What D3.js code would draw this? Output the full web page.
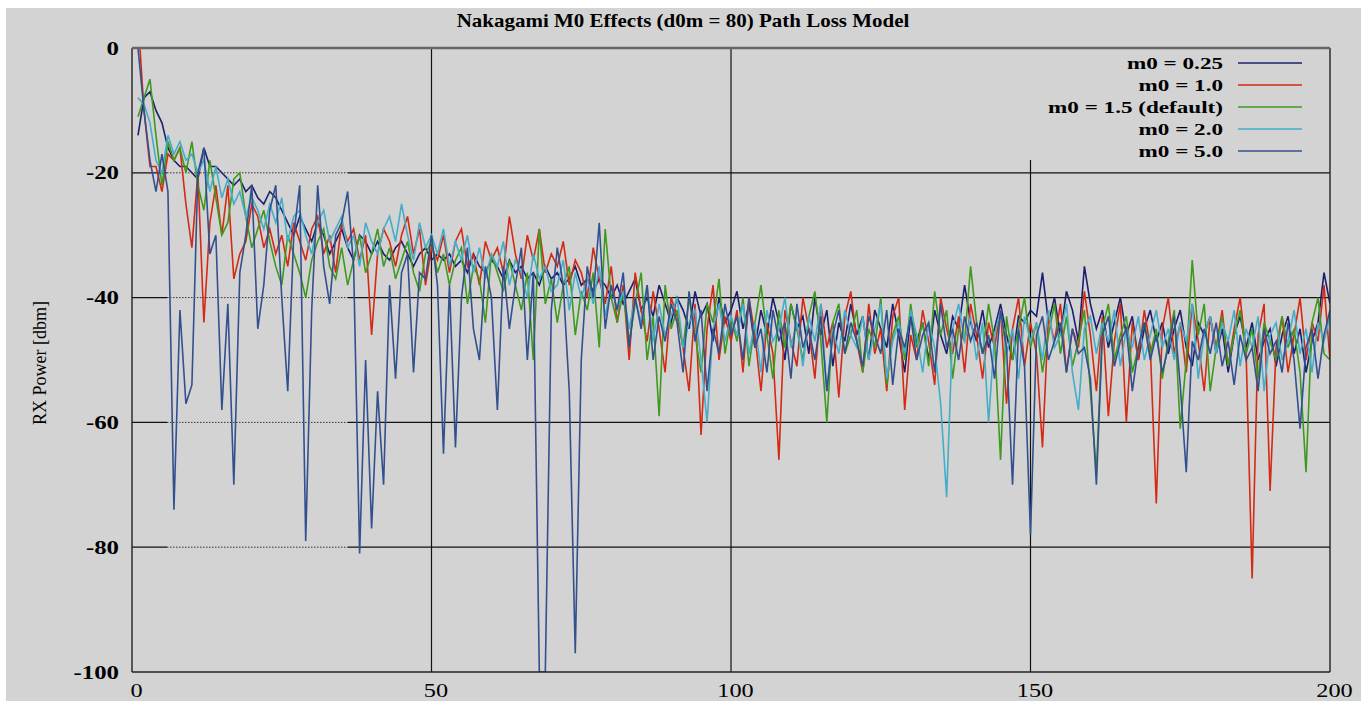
<!DOCTYPE html>
<html><head><meta charset="utf-8">
<script src="https://cdn.jsdelivr.net/npm/d3@7"></script>
<style>
html,body{margin:0;padding:0;background:#fff;}
svg{display:block;}
text{font-family:"Liberation Serif","Times New Roman",serif;fill:#000;}
</style></head>
<body>
<svg id="chart" width="1361" height="701"></svg>
<script>
const title = "Nakagami M0 Effects (d0m = 80) Path Loss Model";
const yLabel = "RX Power [dbm]";
const xTicks = [0, 50, 100, 150, 200];
const yTicks = [0, -20, -40, -60, -80, -100];
const seriesNames = ["m0 = 0.25", "m0 = 1.0", "m0 = 1.5 (default)", "m0 = 2.0", "m0 = 5.0"];
const seriesColors = ["#1b1f6e", "#d42a14", "#3e9a1e", "#45adc9", "#33508e"];

const m025 = [
-14,-8,-7,-10,-12,-16,-18,-19,-19,-20,
-21,-16,-19,-19,-20,-21,-22,-21,-23,-22,
-24,-25,-23,-24,-26,-28,-30,-27,-29,-31,
-28,-30,-33,-31,-29,-32,-34,-30,-31,-33,
-31,-33,-34,-32,-31,-33,-35,-33,-32,-34,
-33,-34,-33,-35,-34,-36,-33,-35,-36,-34,
-35,-37,-34,-36,-35,-37,-36,-38,-35,-37,
-36,-38,-37,-35,-38,-37,-39,-37,-38,-40,
-38,-41,-39,-37,-42,-40,-43,-38,-41,-44,
-40,-42,-45,-39,-43,-41,-47,-40,-44,-42,
-39,-45,-41,-48,-42,-46,-40,-44,-50,-41,
-45,-43,-49,-40,-46,-42,-51,-44,-47,-41,
-46,-43,-50,-42,-45,-48,-41,-46,-52,-43,
-47,-44,-50,-42,-46,-49,-43,-45,-38,-44,
-47,-42,-48,-45,-41,-46,-50,-43,-44,-42,
-43,-36,-44,-40,-46,-39,-42,-47,-35,-41,
-45,-42,-48,-44,-40,-46,-43,-50,-45,-42,
-47,-44,-49,-45,-42,-48,-51,-44,-46,-43,
-49,-45,-52,-46,-43,-48,-44,-50,-47,-45,
-51,-46,-43,-49,-45,-52,-47,-44,-36,-41];

const m10 = [
5,-10,-19,-19,-23,-17,-18,-16,-25,-32,
-20,-44,-28,-22,-30,-22,-37,-33,-31,-25,
-27,-32,-29,-33,-30,-35,-28,-31,-34,-29,
-27,-33,-30,-36,-28,-31,-29,-34,-30,-46,
-33,-29,-31,-35,-30,-27,-33,-29,-38,-32,
-34,-30,-36,-31,-29,-35,-33,-38,-31,-34,
-32,-36,-27,-33,-37,-30,-34,-29,-36,-33,
-35,-31,-38,-34,-36,-40,-32,-37,-41,-35,
-44,-38,-50,-36,-42,-47,-39,-45,-52,-40,
-43,-48,-55,-41,-62,-45,-38,-50,-43,-47,
-42,-52,-40,-46,-55,-44,-49,-66,-42,-47,
-51,-40,-45,-53,-41,-48,-44,-56,-43,-39,
-47,-52,-41,-49,-45,-55,-43,-40,-58,-46,
-50,-42,-47,-54,-40,-45,-49,-43,-52,-41,
-46,-53,-44,-48,-42,-57,-45,-40,-51,-44,
-49,-64,-43,-47,-41,-52,-45,-48,-39,-46,
-55,-43,-59,-47,-41,-60,-44,-50,-42,-48,
-73,-45,-40,-49,-44,-52,-41,-47,-55,-43,
-48,-42,-51,-45,-40,-49,-85,-46,-41,-71,
-48,-43,-52,-46,-40,-50,-44,-47,-38,-50];

const m15 = [
-11,-8,-5,-14,-22,-15,-18,-16,-20,-15,
-22,-26,-18,-24,-30,-28,-21,-20,-27,-32,
-29,-26,-31,-35,-38,-30,-33,-36,-40,-34,
-31,-29,-35,-37,-32,-38,-34,-30,-36,-33,
-29,-35,-32,-37,-34,-31,-36,-39,-33,-31,
-36,-33,-38,-34,-32,-41,-35,-37,-44,-33,
-36,-39,-34,-38,-42,-36,-50,-29,-41,-37,
-44,-38,-35,-46,-39,-42,-36,-48,-29,-40,
-44,-39,-47,-41,-36,-50,-43,-59,-38,-45,
-42,-48,-40,-46,-52,-41,-44,-37,-49,-43,
-47,-40,-51,-44,-38,-46,-53,-42,-48,-41,
-45,-50,-43,-39,-47,-60,-44,-41,-49,-46,
-42,-52,-45,-48,-40,-54,-46,-43,-50,-41,
-48,-44,-51,-39,-46,-42,-53,-45,-47,-35,
-44,-49,-41,-47,-66,-43,-50,-45,-40,-48,
-44,-52,-46,-41,-49,-43,-51,-47,-42,-55,
-68,-45,-41,-50,-46,-43,-52,-48,-44,-49,
-45,-53,-47,-42,-61,-50,-34,-46,-41,-55,
-48,-43,-51,-46,-42,-49,-45,-53,-44,-47,
-50,-43,-48,-45,-52,-68,-44,-40,-49,-50];

const m20 = [
-8,-9,-12,-18,-20,-14,-17,-15,-18,-17,
-20,-18,-23,-19,-24,-21,-25,-23,-27,-24,
-26,-29,-25,-28,-24,-31,-27,-26,-30,-33,
-28,-26,-31,-29,-27,-32,-30,-35,-28,-31,
-33,-29,-27,-31,-25,-30,-34,-28,-32,-30,
-33,-29,-35,-31,-34,-30,-36,-32,-37,-33,
-35,-31,-38,-34,-36,-40,-33,-37,-35,-39,
-38,-34,-42,-36,-40,-37,-41,-35,-43,-38,
-42,-39,-45,-40,-44,-38,-47,-41,-46,-43,
-40,-48,-44,-42,-50,-60,-45,-41,-47,-43,
-46,-41,-49,-44,-52,-42,-47,-45,-40,-48,
-44,-51,-43,-47,-41,-55,-45,-49,-42,-46,
-48,-43,-50,-45,-41,-53,-47,-44,-49,-42,
-46,-52,-44,-48,-57,-72,-45,-41,-47,-43,
-50,-44,-60,-46,-42,-49,-45,-53,-43,-47,
-44,-50,-42,-48,-46,-41,-52,-58,-45,-43,
-49,-44,-47,-42,-51,-45,-48,-43,-50,-46,
-42,-48,-45,-50,-44,-47,-41,-53,-46,-43,
-49,-44,-47,-42,-51,-45,-48,-43,-55,-46,
-44,-50,-47,-42,-49,-45,-52,-44,-47,-43];

const m50 = [
0,-10,-18,-23,-17,-23,-74,-42,-57,-54,
-20,-16,-33,-30,-58,-41,-70,-36,-30,-22,
-45,-38,-26,-22,-40,-55,-30,-22,-79,-42,
-22,-35,-41,-30,-28,-23,-35,-81,-50,-77,
-55,-70,-38,-53,-36,-33,-52,-36,-37,-30,
-38,-65,-38,-64,-40,-32,-45,-50,-35,-40,
-58,-35,-45,-38,-32,-50,-36,-100,-100,-42,
-32,-38,-55,-97,-50,-35,-40,-28,-45,-38,
-42,-36,-48,-40,-45,-38,-50,-43,-47,-41,
-44,-52,-39,-47,-42,-55,-45,-49,-41,-46,
-43,-50,-40,-48,-45,-52,-42,-47,-44,-53,
-41,-48,-45,-50,-43,-55,-46,-42,-49,-44,
-47,-51,-43,-46,-49,-42,-54,-45,-48,-43,
-50,-46,-44,-52,-41,-48,-45,-50,-43,-47,
-44,-49,-46,-53,-42,-48,-70,-45,-51,-78,
-46,-43,-50,-47,-44,-52,-45,-49,-48,-53,
-70,-46,-43,-51,-47,-45,-55,-48,-44,-50,
-46,-52,-48,-43,-54,-68,-47,-50,-45,-49,
-44,-51,-47,-54,-46,-50,-48,-55,-45,-49,
-47,-52,-44,-50,-61,-48,-45,-53,-46,-42];

const seriesValues = [m025, m10, m15, m20, m50];

const svg = d3.select("#chart");
const W = 1361, H = 701;
const plot = {left: 132, right: 1330, top: 48, bottom: 672};

svg.append("rect").attr("x", 6).attr("y", 8).attr("width", W - 6).attr("height", H - 8).attr("fill", "#d3d3d3");

const x = d3.scaleLinear().domain([0, 200]).range([plot.left, plot.right]);
const y = d3.scaleLinear().domain([-100, 0]).range([plot.bottom, plot.top]);

// stretched text helper (the reference type is horizontally wide)
function wideText(parent, px, py, str, opts) {
  const g = parent.append("g").attr("transform", `translate(${px},${py}) scale(${opts.sx},1)`);
  return g.append("text").attr("x", 0).attr("y", 0).attr("text-anchor", opts.anchor || "start")
    .style("font-size", opts.size + "px").style("font-weight", opts.weight || "normal").text(str);
}

// title
const tt = wideText(svg, 683, 27, title, {sx: 1, anchor: "middle", size: 19, weight: "bold"});
const tw = tt.node().getComputedTextLength();
tt.node().parentNode.setAttribute("transform", `translate(683,27) scale(${453 / tw},1)`);

// grid
const grid = svg.append("g");
xTicks.filter(t => t > 0 && t < 200).forEach(t => {
  grid.append("line").attr("x1", x(t)).attr("x2", x(t)).attr("y1", t === 150 ? 160 : plot.top).attr("y2", plot.bottom)
    .attr("stroke", "#111").attr("stroke-width", 1.2);
});
yTicks.filter(t => t < 0 && t > -100).forEach(t => {
  const yy = y(t);
  grid.append("line").attr("x1", plot.left).attr("x2", 167).attr("y1", yy).attr("y2", yy)
    .attr("stroke", "#111").attr("stroke-width", 1.2);
  grid.append("line").attr("x1", 167).attr("x2", 348).attr("y1", yy).attr("y2", yy)
    .attr("stroke", "#333").attr("stroke-width", 1).attr("stroke-dasharray", "1.5,1.5");
  grid.append("line").attr("x1", 348).attr("x2", plot.right).attr("y1", yy).attr("y2", yy)
    .attr("stroke", "#111").attr("stroke-width", 1.2);
});

// tick labels via d3 axes
const fmt = d => String(d);
const xAxis = d3.axisBottom(x).tickValues(xTicks).tickSize(0).tickFormat(fmt);
const gx = svg.append("g").attr("transform", `translate(0,${plot.bottom})`).call(xAxis);
gx.select(".domain").remove();
gx.selectAll(".tick text").each(function (d) {
  const t = d3.select(this);
  t.attr("y", 0).attr("dy", null).attr("x", 0)
    .attr("transform", `translate(4,25) scale(1.35,1)`)
    .style("font-size", "18px").style("font-family", "'Liberation Serif',serif");
});

const yAxis = d3.axisLeft(y).tickValues(yTicks).tickSize(0).tickFormat(fmt);
const gy = svg.append("g").attr("transform", `translate(${plot.left},0)`).call(yAxis);
gy.select(".domain").remove();
gy.selectAll(".tick text").each(function (d) {
  const t = d3.select(this);
  t.attr("x", 0).attr("dy", null).attr("y", 0)
    .attr("transform", `translate(-13,6) scale(1.38,1)`)
    .style("font-size", "18px").style("font-family", "'Liberation Serif',serif").style("font-weight", "bold");
});

svg.append("text").attr("transform", `translate(46,${363}) rotate(-90)`)
  .attr("text-anchor", "middle").style("font-size", "18px").text(yLabel);

// clip
svg.append("clipPath").attr("id", "clip").append("rect")
  .attr("x", plot.left).attr("y", plot.top).attr("width", plot.right - plot.left).attr("height", plot.bottom - plot.top);

const line = d3.line().x((d, i) => x(i + 1)).y(d => y(d));
const gl = svg.append("g").attr("clip-path", "url(#clip)");
seriesValues.forEach((vals, k) => {
  gl.append("path").datum(vals).attr("d", line).attr("fill", "none")
    .attr("stroke", seriesColors[k]).attr("stroke-width", 1.6).attr("stroke-linejoin", "miter");
});

// frame
svg.append("line").attr("x1", plot.left).attr("x2", plot.left).attr("y1", plot.top).attr("y2", plot.bottom).attr("stroke", "#222").attr("stroke-width", 1.4);
svg.append("line").attr("x1", plot.right).attr("x2", plot.right).attr("y1", plot.top).attr("y2", plot.bottom).attr("stroke", "#222").attr("stroke-width", 1.4);
svg.append("line").attr("x1", plot.left).attr("x2", plot.right).attr("y1", plot.bottom).attr("y2", plot.bottom).attr("stroke", "#222").attr("stroke-width", 1.4);
svg.append("line").attr("x1", plot.left).attr("x2", plot.right).attr("y1", plot.top).attr("y2", plot.top)
  .attr("stroke", "#666").attr("stroke-width", 2.5);

// legend
const lg = svg.append("g");
seriesNames.forEach((name, k) => {
  const yy = 63 + k * 22;
  wideText(lg, 1223, yy + 6, name, {sx: 1.36, anchor: "end", size: 17, weight: "bold"});
  lg.append("line").attr("x1", 1238).attr("x2", 1302).attr("y1", yy).attr("y2", yy)
    .attr("stroke", seriesColors[k]).attr("stroke-width", 1.5);
});
</script>
</body></html>
